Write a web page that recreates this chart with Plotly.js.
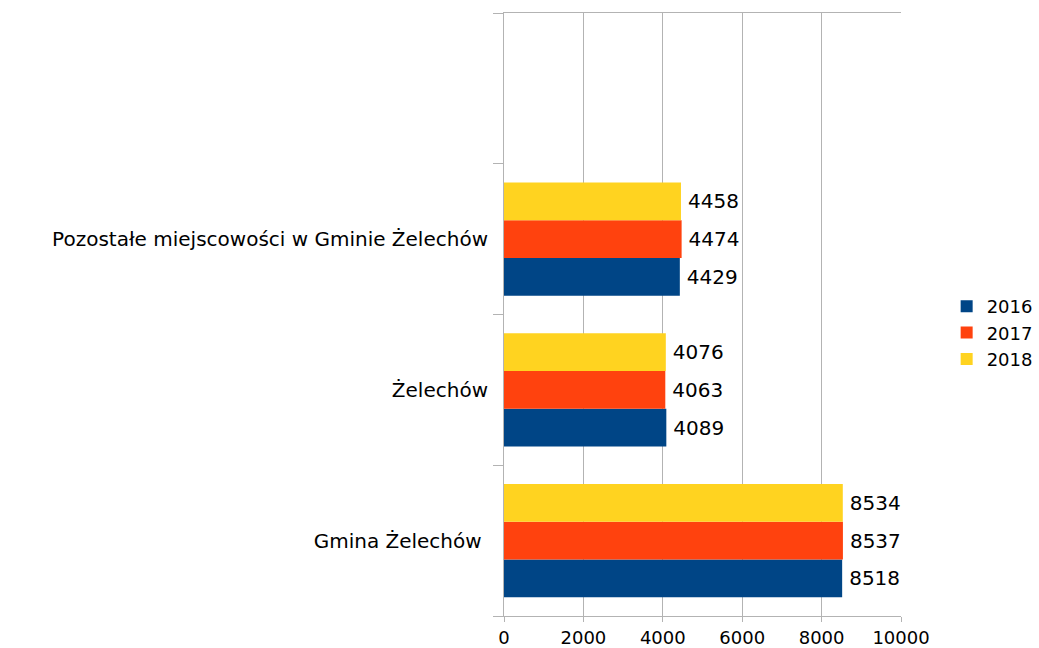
<!DOCTYPE html>
<html>
<head>
<meta charset="utf-8">
<script src="https://cdn.plot.ly/plotly-3.0.1.min.js"></script>
<style>html,body{margin:0;padding:0;background:#fff;}#chart{width:1039px;height:648px;}</style>
</head>
<body>
<div id="chart"></div>
<script>
const categories = ["Gmina Żelechów\u00a0", "Żelechów", "Pozostałe miejscowości w Gminie Żelechów", " "];
const years = ["2016", "2017", "2018"];
const values2016 = [8518, 4089, 4429, null];
const values2017 = [8537, 4063, 4474, null];
const values2018 = [8534, 4076, 4458, null];
const xTicks = [0, 2000, 4000, 6000, 8000, 10000];
const colors = ["#004586", "#ff420e", "#ffd320"];

const FONT = "DejaVu Sans, sans-serif";
const series = [values2016, values2017, values2018];
const traces = series.map((vals, i) => ({
  type: "bar",
  orientation: "h",
  name: years[i],
  y: categories,
  x: vals,
  text: vals.map(v => v == null ? "" : "\u2009" + String(v)),
  textposition: "outside",
  textfont: {family: FONT, size: 20, color: "#000"},
  cliponaxis: false,
  marker: {color: colors[i]},
  hoverinfo: "x+name"
}));

const layout = {
  width: 1039, height: 648,
  margin: {l: 504, r: 138, t: 13, b: 32, autoexpand: false},
  paper_bgcolor: "#fff", plot_bgcolor: "#fff",
  barmode: "group", bargap: 0.25, bargroupgap: 0,
  font: {family: FONT, size: 20, color: "#000"},
  xaxis: {
    range: [0, 10000], tickvals: xTicks, tickformat: "d",
    showgrid: true, gridcolor: "#b3b3b3", gridwidth: 1,
    zeroline: false, showline: true, linecolor: "#b3b3b3", linewidth: 1, mirror: true,
    ticks: "outside", ticklen: 5, tickcolor: "#b3b3b3",
    tickfont: {family: FONT, size: 18, color: "#000"}, fixedrange: true
  },
  yaxis: {
    type: "category", categoryorder: "array", categoryarray: categories,
    range: [-0.5, 3.5], tickson: "boundaries",
    showgrid: false, zeroline: false, showline: true, linecolor: "#b3b3b3", linewidth: 1,
    ticks: "outside", ticklen: 10, tickcolor: "#b3b3b3", ticklabelstandoff: 11,
    tickfont: {family: FONT, size: 20, color: "#000"}, fixedrange: true
  },
  showlegend: true,
  legend: {
    x: 1.115, y: 0.544, xanchor: "left", yanchor: "top",
    font: {family: FONT, size: 18, color: "#000"},
    traceorder: "normal", bgcolor: "rgba(0,0,0,0)"
  }
};

Plotly.newPlot("chart", traces, layout, {displayModeBar: false, staticPlot: true});
</script>
</body>
</html>
